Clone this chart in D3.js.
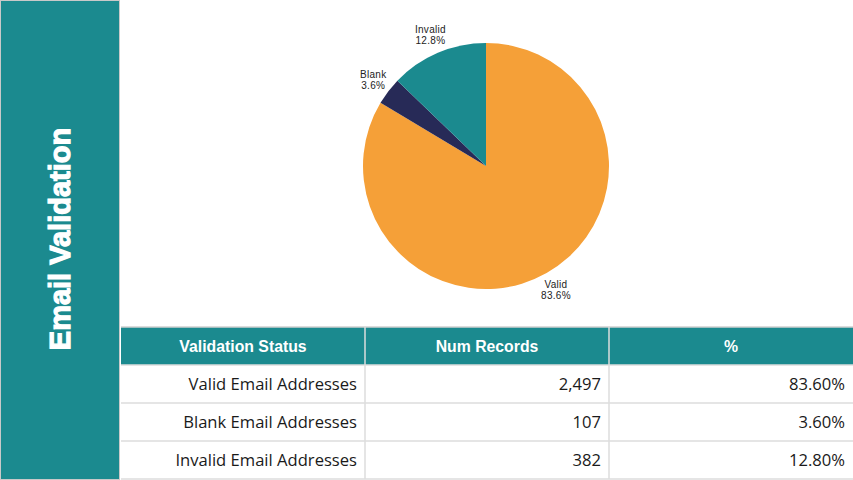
<!DOCTYPE html>
<html>
<head>
<meta charset="utf-8">
<script src="https://cdn.jsdelivr.net/npm/d3@7"></script>
<style>
  body { margin: 0; background: #fff; }
  svg { display: block; }
</style>
</head>
<body>
<div id="chart"></div>
<script>
const w = 853;
const h = 480;

// pie data
const categories = ["Valid", "Blank", "Invalid"];
const shares = [83.6, 3.6, 12.8];

// table data
const headers = ["Validation Status", "Num Records", "%"];
const statusNames = ["Valid Email Addresses", "Blank Email Addresses", "Invalid Email Addresses"];
const records = [2497, 107, 382];
const percents = [83.6, 3.6, 12.8];

const teal = "#1b8a8f";
const colors = d3.scaleOrdinal().domain(categories).range(["#f5a038", "#272a57", teal]);

const svg = d3.select("#chart")
  .append("svg")
  .attr("width", w)
  .attr("height", h);

// side bar with title
svg.append("rect")
  .attr("x", 0.5).attr("y", 0.5)
  .attr("width", 119).attr("height", h - 1)
  .attr("fill", teal)
  .attr("stroke", "#c9c9c9");

svg.append("text")
  .attr("transform", "translate(70, 239) rotate(-90)")
  .attr("text-anchor", "middle")
  .attr("fill", "#fff")
  .attr("stroke", "#fff")
  .attr("stroke-width", 1.2)
  .style("font-family", "'Liberation Sans', Arial, sans-serif")
  .style("font-weight", "bold")
  .style("font-size", "29px")
  .text("Email Validation");

// pie
const cx = 486, cy = 166, r = 123;
const pieData = d3.pie().sort(null)(shares);
const arc = d3.arc().innerRadius(0).outerRadius(r);
const labelArc = d3.arc().innerRadius(142).outerRadius(142);

const pieG = svg.append("g").attr("transform", `translate(${cx}, ${cy})`);
pieG.selectAll("path")
  .data(pieData)
  .enter()
  .append("path")
  .attr("d", arc)
  .attr("fill", (d, i) => colors(categories[i]));

const lbl = pieG.selectAll("text.lbl")
  .data(pieData)
  .enter()
  .append("text")
  .attr("class", "lbl")
  .attr("transform", d => `translate(${labelArc.centroid(d)})`)
  .attr("text-anchor", "middle")
  .attr("fill", "#222")
  .style("font-family", "'Liberation Sans', Arial, sans-serif")
  .style("font-size", "10px")
  .style("letter-spacing", "0.3px");
lbl.append("tspan").attr("x", 0).attr("dy", "-0.2em").text((d, i) => categories[i]);
lbl.append("tspan").attr("x", 0).attr("dy", "1.1em").text((d, i) => d3.format(".1f")(shares[i]) + "%");

// table
const tableLeft = 121, tableRight = w;
const colX = d3.scaleBand().domain(d3.range(headers.length)).range([tableLeft, tableRight]);
const rowY = d3.scaleBand().domain(d3.range(statusNames.length + 1)).range([327, 479]);

const tbl = svg.append("g");
tbl.append("rect")
  .attr("x", tableLeft).attr("y", rowY(0))
  .attr("width", tableRight - tableLeft).attr("height", rowY.bandwidth())
  .attr("fill", teal);

headers.forEach((t, i) => {
  tbl.append("text")
    .attr("x", colX(i) + colX.bandwidth() / 2)
    .attr("y", rowY(0) + rowY.bandwidth() / 2)
    .attr("dy", "0.36em")
    .attr("text-anchor", "middle")
    .attr("fill", "#fff")
    .style("font-family", "'Liberation Sans', Arial, sans-serif")
    .style("font-weight", "bold")
    .style("font-size", "15.8px")
    .text(t);
});

const fmtInt = d3.format(",");
const fmtPct = d => d3.format(".2f")(d) + "%";
const rows = statusNames.map((s, i) => [s, fmtInt(records[i]), fmtPct(percents[i])]);

rows.forEach((row, ri) => {
  row.forEach((t, ci) => {
    tbl.append("text")
      .attr("x", colX(ci) + colX.bandwidth() - 8)
      .attr("y", rowY(ri + 1) + rowY.bandwidth() / 2)
      .attr("dy", "0.36em")
      .attr("text-anchor", "end")
      .attr("fill", "#1a1a1a")
      .style("font-family", "'Open Sans', sans-serif")
      .style("font-size", "16.6px")
      .text(t);
  });
});

// grid lines
d3.range(1, statusNames.length + 2).forEach(i => {
  const y = i <= statusNames.length ? rowY(i) : 479;
  tbl.append("line")
    .attr("x1", tableLeft).attr("x2", tableRight)
    .attr("y1", y).attr("y2", y)
    .attr("stroke", "#dcdcdc").attr("stroke-width", 1.5);
});
tbl.append("line")
  .attr("x1", tableLeft).attr("x2", tableRight)
  .attr("y1", rowY(0)).attr("y2", rowY(0))
  .attr("stroke", "#d0d0d0").attr("stroke-width", 1.5);
d3.range(1, headers.length).forEach(i => {
  tbl.append("line")
    .attr("x1", colX(i)).attr("x2", colX(i))
    .attr("y1", rowY(0)).attr("y2", 479)
    .attr("stroke", "#dcdcdc").attr("stroke-width", 1.5);
});
</script>
</body>
</html>
